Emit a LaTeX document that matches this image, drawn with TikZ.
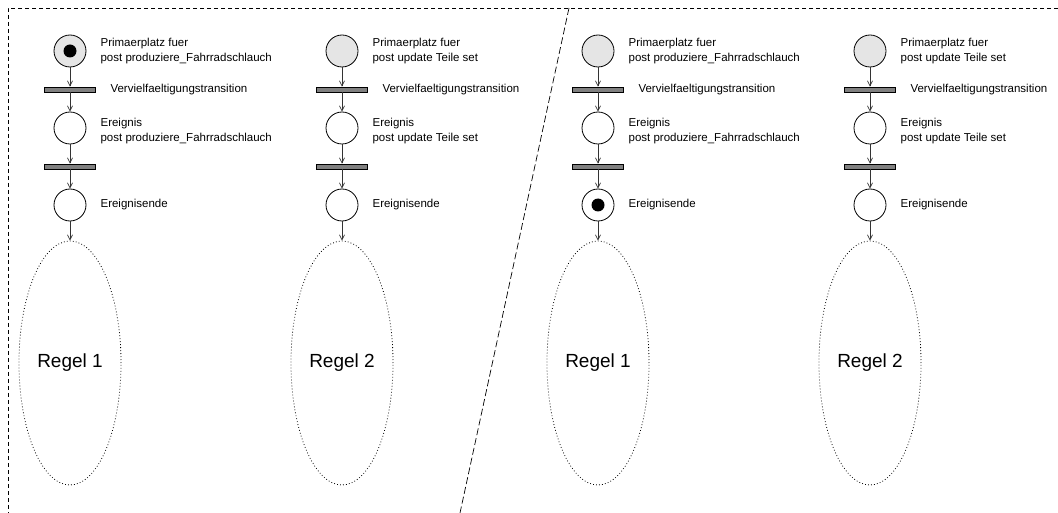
\documentclass[tikz,border=0pt]{standalone}
\usepackage{fontspec}
\setmainfont{Liberation Sans}
\usetikzlibrary{positioning,shapes.geometric,arrows.meta}

\begin{document}
\begin{tikzpicture}[
        x=1pt, y=-1pt,
        node distance=38.5pt,
        platz/.style={circle, draw=black, line width=0.8pt, minimum size=32pt, inner sep=0pt},
        primaer/.style={platz, fill=gray!20},
        marke/.style={circle, fill=black, minimum size=13pt, inner sep=0pt},
        trans/.style={rectangle, draw=black, line width=0.7pt, fill=gray, minimum width=51pt, minimum height=5pt, inner sep=0pt},
        regel/.style={ellipse, draw=black, line width=0.8pt, dash pattern=on 0.8pt off 2.2pt, minimum width=99pt, minimum height=244pt, font=\fontsize{19}{22}\selectfont},
        txt/.style={align=left, inner sep=0pt, font=\fontsize{11.5}{15.5}\selectfont},
        pfeil/.style={draw=black!80, line width=0.7pt, -{Straight Barb[length=5pt,width=5pt]}}
    ]
        \useasboundingbox (0,0) rectangle (1058,513);

        % Rahmen und Trennlinie
        \draw[black, line width=0.7pt, dash pattern=on 4pt off 3pt] (1058,8) -- (8,8) -- (8,513);
        \draw[black, line width=0.7pt, dash pattern=on 7pt off 3pt] (569,8) -- (460,513);

        % Spalte 1
        \node[primaer] (p1) at (70,51) {};
        \node[marke] (m1) at (p1) {};
        \node[trans] (v1) [below of=p1] {};
        \node[platz] (e1) [below of=v1] {};
        \node[trans] (w1) [below of=e1] {};
        \node[platz] (n1) [below of=w1] {};
        \node[regel] (r1) [below of=n1, node distance=158pt] {Regel 1};

        \node[txt, right=14pt of p1] {Primaerplatz fuer\\post produziere\_Fahrradschlauch};
        \node[txt, right=14.5pt of v1] {Vervielfaeltigungstransition};
        \node[txt, right=14pt of e1, yshift=-3pt] {Ereignis\\post produziere\_Fahrradschlauch};
        \node[txt, right=14pt of n1] {Ereignisende};

        % Spalte 2
        \node[primaer] (p2) at (342,51) {};
        \node[trans] (v2) [below of=p2] {};
        \node[platz] (e2) [below of=v2] {};
        \node[trans] (w2) [below of=e2] {};
        \node[platz] (n2) [below of=w2] {};
        \node[regel] (r2) [below of=n2, node distance=158pt] {Regel 2};

        \node[txt, right=14pt of p2] {Primaerplatz fuer\\post update Teile set};
        \node[txt, right=14.5pt of v2] {Vervielfaeltigungstransition};
        \node[txt, right=14pt of e2, yshift=-3pt] {Ereignis\\post update Teile set};
        \node[txt, right=14pt of n2] {Ereignisende};

        % Spalte 3
        \node[primaer] (p3) at (598,51) {};
        \node[trans] (v3) [below of=p3] {};
        \node[platz] (e3) [below of=v3] {};
        \node[trans] (w3) [below of=e3] {};
        \node[platz] (n3) [below of=w3] {};
        \node[marke] (m3) at (n3) {};
        \node[regel] (r3) [below of=n3, node distance=158pt] {Regel 1};

        \node[txt, right=14pt of p3] {Primaerplatz fuer\\post produziere\_Fahrradschlauch};
        \node[txt, right=14.5pt of v3] {Vervielfaeltigungstransition};
        \node[txt, right=14pt of e3, yshift=-3pt] {Ereignis\\post produziere\_Fahrradschlauch};
        \node[txt, right=14pt of n3] {Ereignisende};

        % Spalte 4
        \node[primaer] (p4) at (870,51) {};
        \node[trans] (v4) [below of=p4] {};
        \node[platz] (e4) [below of=v4] {};
        \node[trans] (w4) [below of=e4] {};
        \node[platz] (n4) [below of=w4] {};
        \node[regel] (r4) [below of=n4, node distance=158pt] {Regel 2};

        \node[txt, right=14pt of p4] {Primaerplatz fuer\\post update Teile set};
        \node[txt, right=14.5pt of v4] {Vervielfaeltigungstransition};
        \node[txt, right=14pt of e4, yshift=-3pt] {Ereignis\\post update Teile set};
        \node[txt, right=14pt of n4] {Ereignisende};

        % Kanten
        \draw[pfeil] (p1) -- (v1);
        \draw[pfeil] (v1) -- (e1);
        \draw[pfeil] (e1) -- (w1);
        \draw[pfeil] (w1) -- (n1);
        \draw[pfeil] (n1) -- (r1);

        \draw[pfeil] (p2) -- (v2);
        \draw[pfeil] (v2) -- (e2);
        \draw[pfeil] (e2) -- (w2);
        \draw[pfeil] (w2) -- (n2);
        \draw[pfeil] (n2) -- (r2);

        \draw[pfeil] (p3) -- (v3);
        \draw[pfeil] (v3) -- (e3);
        \draw[pfeil] (e3) -- (w3);
        \draw[pfeil] (w3) -- (n3);
        \draw[pfeil] (n3) -- (r3);

        \draw[pfeil] (p4) -- (v4);
        \draw[pfeil] (v4) -- (e4);
        \draw[pfeil] (e4) -- (w4);
        \draw[pfeil] (w4) -- (n4);
        \draw[pfeil] (n4) -- (r4);
    \end{tikzpicture}
\end{document}
